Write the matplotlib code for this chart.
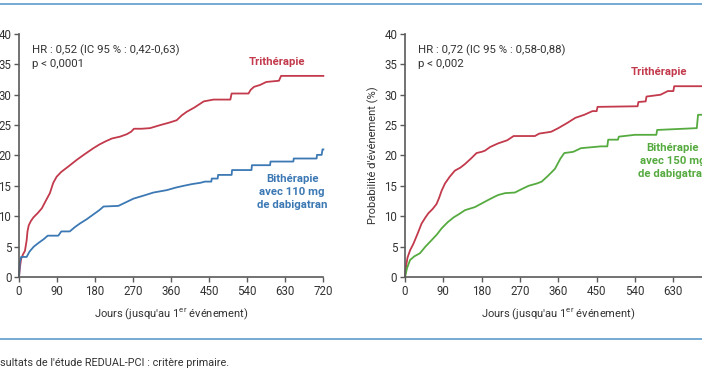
import matplotlib.pyplot as plt
from matplotlib.lines import Line2D

plt.rcParams['font.family'] = ['Roboto', 'DejaVu Sans']

# --- données (jours, % cumulés) ---
# Panneau gauche : 110 mg
g_tri_j = [0, 2, 5, 10, 14, 18, 20, 23, 28, 34, 44, 54, 63, 73, 81, 89, 100, 117, 137, 155,
           176, 190, 204, 220, 239, 255, 265, 272, 290, 310, 334, 355, 373, 385, 397, 415, 437,
           460, 500, 503, 543, 548, 556, 570, 585, 615, 620, 720]
g_tri_p = [0, 1.5, 3.0, 3.8, 4.3, 6.0, 7.5, 8.5, 9.2, 9.8, 10.5, 11.3, 12.5, 13.8, 15.5, 16.5,
           17.3, 18.2, 19.3, 20.2, 21.2, 21.8, 22.3, 22.8, 23.1, 23.5, 23.9, 24.4, 24.4, 24.5,
           25.0, 25.4, 25.8, 26.6, 27.2, 27.9, 28.9, 29.2, 29.2, 30.2, 30.2, 30.8, 31.3, 31.6,
           32.1, 32.3, 33.1, 33.1]
g_bi_j = [0, 2, 5, 18, 25, 35, 46, 58, 68, 93, 100, 120, 132, 144, 160, 176, 190, 200, 235,
          250, 271, 295, 318, 350, 370, 389, 410, 429, 440, 455, 456, 470, 471, 503, 504, 550,
          551, 594, 595, 649, 650, 704, 705, 716, 718, 720]
g_bi_p = [0, 2.5, 3.3, 3.3, 4.2, 5.0, 5.6, 6.2, 6.8, 6.8, 7.5, 7.5, 8.2, 8.8, 9.5, 10.3, 11.0,
          11.6, 11.7, 12.2, 12.9, 13.4, 13.9, 14.3, 14.7, 15.0, 15.3, 15.5, 15.7, 15.7, 16.2,
          16.2, 16.8, 16.8, 17.6, 17.6, 18.4, 18.4, 19.0, 19.0, 19.5, 19.5, 20.1, 20.1, 21.0,
          21.0]

# Panneau droit : 150 mg
d_tri_j = [0, 3, 6, 12, 20, 30, 39, 48, 55, 65, 74, 80, 86, 94, 105, 117, 130, 141, 155, 168,
           180, 188, 200, 219, 240, 255, 305, 315, 343, 360, 382, 400, 421, 440, 450, 452, 546,
           548, 565, 567, 600, 617, 630, 632, 720]
d_tri_p = [0, 2.0, 3.2, 4.4, 5.5, 7.2, 8.8, 9.8, 10.5, 11.2, 12.0, 13.0, 14.2, 15.4, 16.5,
           17.5, 18.0, 18.6, 19.5, 20.4, 20.6, 20.8, 21.4, 22.0, 22.5, 23.2, 23.2, 23.6, 23.9,
           24.5, 25.4, 26.2, 26.7, 27.3, 27.3, 28.0, 28.1, 28.8, 28.9, 29.7, 30.0, 30.6, 30.6,
           31.4, 31.4]
d_bi_j = [0, 5, 12, 22, 35, 48, 63, 75, 86, 100, 114, 128, 141, 164, 180, 196, 210, 219, 235,
          258, 275, 290, 310, 321, 335, 345, 352, 365, 374, 395, 413, 460, 475, 477, 500, 502,
          540, 590, 592, 685, 688, 720]
d_bi_p = [0, 1.5, 2.8, 3.4, 3.9, 5.0, 6.1, 7.0, 8.0, 9.0, 9.8, 10.4, 11.0, 11.5, 12.1, 12.7,
          13.2, 13.5, 13.8, 13.9, 14.5, 15.0, 15.4, 15.7, 16.6, 17.3, 17.8, 19.5, 20.4, 20.6,
          21.2, 21.5, 21.5, 22.6, 22.6, 23.1, 23.4, 23.4, 24.2, 24.5, 26.7, 26.7]

x_ticks = [0, 90, 180, 270, 360, 450, 540, 630, 720]
y_ticks = [0, 5, 10, 15, 20, 25, 30, 35, 40]

rouge = '#c23a4c'
bleu = '#3c79b4'
vert = '#56ab40'
gris = '#5a5a5a'
texte = '#333333'

fig = plt.figure(figsize=(7.02, 3.70), dpi=100)

ax1 = fig.add_axes([0.0271, 0.2514, 0.4335, 0.6568])
ax2 = fig.add_axes([0.5769, 0.2514, 0.4369, 0.6568])

panneaux = [
    (ax1, g_tri_j, g_tri_p, g_bi_j, g_bi_p, bleu, 'HR : 0,52 (IC 95 % : 0,42-0,63)\np < 0,0001',
     (610, 35.4), (646, 14.0), 'Bithérapie\navec 110 mg\nde dabigatran'),
    (ax2, d_tri_j, d_tri_p, d_bi_j, d_bi_p, vert, 'HR : 0,72 (IC 95 % : 0,58-0,88)\np < 0,002',
     (596, 33.7), (629, 19.1), 'Bithérapie\navec 150 mg\nde dabigatran'),
]

for ax, tj, tp, bj, bp, coul, hr, pos_tri, pos_bi, lab_bi in panneaux:
    ax.plot(tj, tp, color=rouge, lw=1.3, clip_on=False)
    ax.plot(bj, bp, color=coul, lw=1.3, clip_on=False)
    ax.set_xlim(0, 720)
    ax.set_ylim(0, 40)
    ax.set_xticks(x_ticks)
    ax.set_yticks(y_ticks)
    for s in ['top', 'right']:
        ax.spines[s].set_visible(False)
    for s in ['left', 'bottom']:
        ax.spines[s].set_color(gris)
        ax.spines[s].set_linewidth(1.2)
    ax.tick_params(colors=gris, labelcolor=texte, labelsize=8.3, length=3.5, width=1.0, pad=2)
    ax.set_xlabel("Jours (jusqu'au 1$^{\\mathregular{er}}$ événement)", fontsize=8,
                  color=texte, labelpad=7)
    ax.text(0.042 * 720, 36.2, hr, fontsize=8.2, color=texte, va='center', ha='left',
            linespacing=1.35)
    ax.text(pos_tri[0], pos_tri[1], 'Trithérapie', fontsize=8.2, fontweight='bold',
            color=rouge, ha='center', va='center', clip_on=False)
    ax.text(pos_bi[0], pos_bi[1], lab_bi, fontsize=8.2, fontweight='bold', color=coul,
            ha='center', va='center', linespacing=1.35, clip_on=False)

fig.text(373 / 702, 1 - 155 / 370, "Probabilité d'événement (%)", rotation=90,
         fontsize=8, color=texte, ha='center', va='center')

# filets bleus et légende
filet = '#5d9ccc'
fig.add_artist(Line2D([0, 1], [1 - 3.5 / 370, 1 - 3.5 / 370], color=filet, lw=1.2))
fig.add_artist(Line2D([0, 1], [1 - 339 / 370, 1 - 339 / 370], color=filet, lw=1.2))
fig.text(0.0, 1 - 363 / 370, "sultats de l'étude REDUAL-PCI : critère primaire.",
         fontsize=7.8, color=texte, ha='left', va='center')

fig.savefig('out.png', dpi=100)
